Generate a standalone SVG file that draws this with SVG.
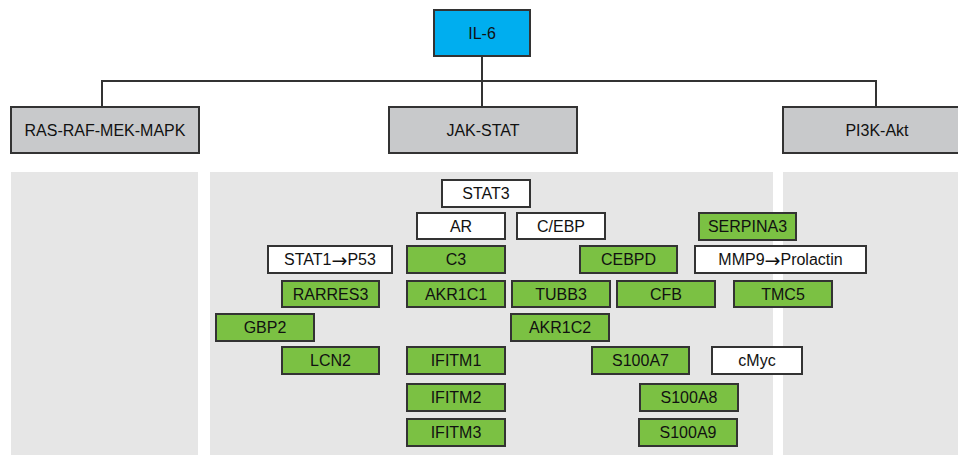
<svg xmlns="http://www.w3.org/2000/svg" width="958" height="455" viewBox="0 0 958 455">
<style>
text{font-family:"Liberation Sans",Arial,sans-serif;font-size:16px;fill:#111;text-anchor:middle;dominant-baseline:central}
.ar{font-family:"DejaVu Sans",sans-serif;font-size:19px}
.b{stroke:#333;stroke-width:2}
.g{fill:#7BC143}
.w{fill:#fff}
.c{fill:#C8C9CB}
.top{fill:#00AEEF}
.panel{fill:#E6E6E6}
.conn{fill:none;stroke:#333;stroke-width:2}
</style>
<rect width="958" height="455" fill="#fff"/>
<g id="panels">
<rect class="panel" x="11" y="172" width="187" height="283"/>
<rect class="panel" x="210" y="172" width="563" height="283"/>
<rect class="panel" x="783" y="172" width="175" height="283"/>
</g>
<g id="connectors">
<path class="conn" d="M482 56V107M102 107V81H876V107"/>
</g>
<g id="il6"><rect class="b top" x="434" y="10" width="96" height="46"/><text x="482" y="33">IL-6</text></g>
<g id="ras"><rect class="b c" x="11" y="107" width="188" height="46"/><text x="105" y="130">RAS-RAF-MEK-MAPK</text></g>
<g id="jakstat"><rect class="b c" x="389" y="107" width="188" height="46"/><text x="483" y="130">JAK-STAT</text></g>
<g id="pi3k"><rect class="b c" x="783" y="107" width="188" height="46"/><text x="877" y="130">PI3K-Akt</text></g>

<g id="stat3"><rect class="b w" x="442" y="180" width="88" height="27"/><text x="486" y="193.500">STAT3</text></g>
<g id="ar"><rect class="b w" x="417" y="213" width="88" height="26"/><text x="461" y="226">AR</text></g>
<g id="cebp"><rect class="b w" x="517" y="213" width="88" height="26"/><text x="561" y="226">C/EBP</text></g>
<g id="serpina3"><rect class="b g" x="699" y="213" width="97" height="27"/><text x="747.500" y="226.500">SERPINA3</text></g>

<g id="stat1"><rect class="b w" x="268" y="246" width="124" height="27"/><text x="330" y="259.500">STAT1<tspan class="ar">→</tspan>P53</text></g>
<g id="c3"><rect class="b g" x="407" y="246" width="98" height="27"/><text x="456" y="259.500">C3</text></g>
<g id="cebpd"><rect class="b g" x="580" y="246" width="97" height="27"/><text x="628.500" y="259.500">CEBPD</text></g>
<g id="mmp9"><rect class="b w" x="695" y="246" width="171" height="27"/><text x="780.500" y="259.500">MMP9<tspan class="ar">→</tspan>Prolactin</text></g>

<g id="rarres3"><rect class="b g" x="282" y="281" width="97" height="26"/><text x="330.500" y="294">RARRES3</text></g>
<g id="akr1c1"><rect class="b g" x="407" y="281" width="98" height="26"/><text x="456" y="294">AKR1C1</text></g>
<g id="tubb3"><rect class="b g" x="512" y="281" width="98" height="26"/><text x="561" y="294">TUBB3</text></g>
<g id="cfb"><rect class="b g" x="617" y="281" width="98" height="26"/><text x="666" y="294">CFB</text></g>
<g id="tmc5"><rect class="b g" x="734" y="281" width="98" height="26"/><text x="783" y="294">TMC5</text></g>

<g id="gbp2"><rect class="b g" x="216" y="314" width="98" height="27"/><text x="265" y="327.500">GBP2</text></g>
<g id="akr1c2"><rect class="b g" x="511" y="314" width="98" height="27"/><text x="560" y="327.500">AKR1C2</text></g>

<g id="lcn2"><rect class="b g" x="282" y="347" width="97" height="27"/><text x="330.500" y="360.500">LCN2</text></g>
<g id="ifitm1"><rect class="b g" x="407" y="347" width="98" height="27"/><text x="456" y="360.500">IFITM1</text></g>
<g id="s100a7"><rect class="b g" x="592" y="347" width="97" height="27"/><text x="640.500" y="360.500">S100A7</text></g>
<g id="cmyc"><rect class="b w" x="712" y="347" width="90" height="27"/><text x="757" y="360.500">cMyc</text></g>

<g id="ifitm2"><rect class="b g" x="407" y="384" width="98" height="27"/><text x="456" y="397.500">IFITM2</text></g>
<g id="s100a8"><rect class="b g" x="640" y="384" width="98" height="27"/><text x="689" y="397.500">S100A8</text></g>

<g id="ifitm3"><rect class="b g" x="407" y="419" width="98" height="27"/><text x="456" y="432.500">IFITM3</text></g>
<g id="s100a9"><rect class="b g" x="639" y="419" width="98" height="27"/><text x="688" y="432.500">S100A9</text></g>
</svg>
